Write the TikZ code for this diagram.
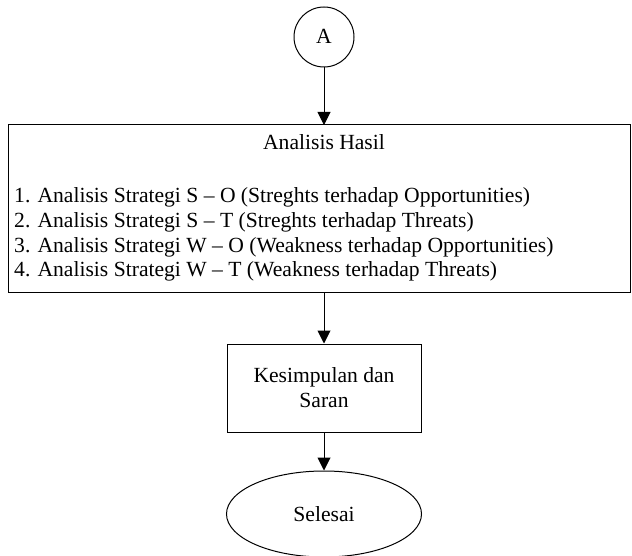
\documentclass[tikz,border=0pt]{standalone}
\usepackage{fontspec}
\setmainfont{Liberation Serif}
\usetikzlibrary{arrows.meta,shapes.geometric}
\begin{document}
\begin{tikzpicture}[x=1pt,y=-1pt,
  every node/.style={font=\fontsize{21.6}{24.7}\selectfont, inner sep=0pt},
  frame/.style={draw, line width=1pt, rectangle},
  txt/.style={anchor=base},
  ltxt/.style={anchor=base west},
  flow/.style={draw, line width=1pt, -{Triangle[length=13pt,width=13pt]}}
]
\useasboundingbox (0,0) rectangle (632,556);
% connector A
\node[draw, line width=1pt, circle, minimum size=60pt] (a) at (324,37) {};
\node[txt] (atxt) at (324,44) {A};
% main box
\node[frame, minimum width=622pt, minimum height=167pt] (hasil) at (319,208.5) {};
\node[txt] (title) at (324,150) {Analisis Hasil};
\node[ltxt] (l1) at (14,202.5) {1. Analisis Strategi S -- O (Streghts terhadap Opportunities)};
\node[ltxt] (l2) at (14,227.2) {2. Analisis Strategi S -- T (Streghts terhadap Threats)};
\node[ltxt] (l3) at (14,252) {3. Analisis Strategi W -- O (Weakness terhadap Opportunities)};
\node[ltxt] (l4) at (14,276.7) {4. Analisis Strategi W -- T (Weakness terhadap Threats)};
% conclusion box
\node[frame, minimum width=194pt, minimum height=88pt] (kes) at (324,388) {};
\node[txt] (k1) at (324,382) {Kesimpulan dan};
\node[txt] (k2) at (324,407) {Saran};
% end ellipse
\node[draw, line width=1pt, ellipse, minimum width=195pt, minimum height=86pt] (end) at (324,514) {};
\node[txt] (etxt) at (324,521) {Selesai};
% arrows
\coordinate (h1) at (324,125);
\coordinate (h2) at (324,292);
\draw[flow] (a.south) -- (h1);
\draw[flow] (h2) -- (kes.north);
\draw[flow] (kes.south) -- (end.north);
\end{tikzpicture}
\end{document}
